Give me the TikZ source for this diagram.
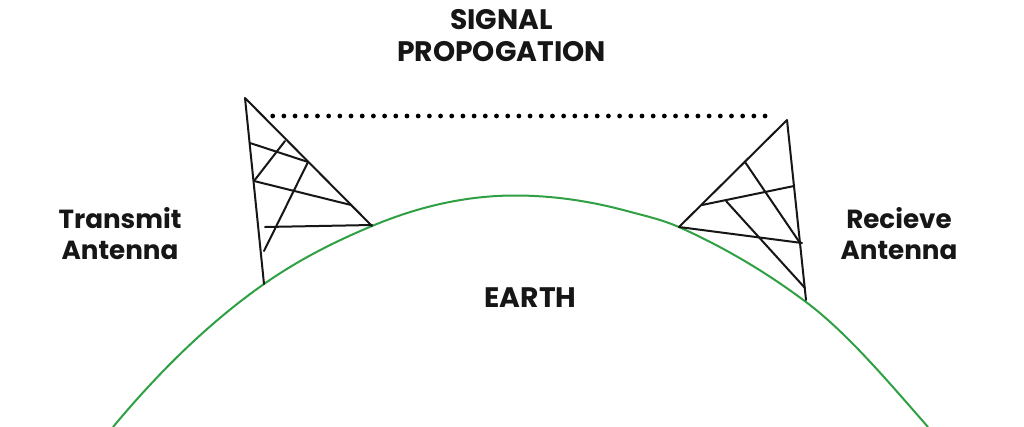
\documentclass[tikz,border=0pt]{standalone}
\usepackage{fontspec}
\setmainfont{Poppins}
\definecolor{earthgreen}{RGB}{48,160,68}
\definecolor{ink}{RGB}{22,22,22}
\tikzset{
  tower/.style={draw=ink,line width=2pt,line cap=round,line join=round},
  ground/.style={draw=earthgreen,line width=2pt},
  dotmark/.style={fill=black,draw=none},
  lab/.style={text=ink,align=center,inner sep=0pt},
  capslab/.style={lab,font=\bfseries\fontsize{28.2}{32}\selectfont},
  mixedlab/.style={lab,font=\bfseries\fontsize{26.2}{31}\selectfont}
}
\begin{document}
\begin{tikzpicture}[x=1pt,y=-1pt]
\useasboundingbox[fill=white] (0,0) rectangle (1024,426);
\draw[ground] (113,427) .. controls (163.3,366.6) and (213.7,319.2) .. (264,284)
  .. controls (300,258.8) and (336,241.1) .. (372,226)
  .. controls (419.7,206) and (467.3,195.5) .. (515,195.5)
  .. controls (552.3,195.5) and (589.7,200.9) .. (627,211)
  .. controls (644.7,215.8) and (662.3,219.6) .. (680,227.5)
  .. controls (722,246.4) and (764,270.5) .. (806,302)
  .. controls (846.7,332.5) and (887.3,380.6) .. (928,427);
% left tower
\draw[tower] (264,284) -- (245,98) -- (372,226);
\draw[tower] (250,143) -- (308,162);
\draw[tower] (285,141) -- (254,181);
\draw[tower] (254,181) -- (351,205);
\draw[tower] (308,162) -- (264,251);
\draw[tower] (265,227) -- (372,225);
% right tower
\draw[tower] (806,300) -- (787,120) -- (679,227);
\draw[tower] (745,162) -- (800,243);
\draw[tower] (702,205) -- (794,186);
\draw[tower] (726,201) -- (805,288);
\draw[tower] (679,227) -- (802,243);
% signal dots
\foreach \i in {0,...,44} \fill[dotmark] ({272.7+\i*11.19},116) circle (2.4);
\node[capslab] (signal) at (501.5,36) {SIGNAL\\PROPOGATION};
\node[mixedlab] (tx) at (120,233.5) {Transmit\\Antenna};
\node[mixedlab] (rx) at (899,233.5) {Recieve\\Antenna};
\node[capslab] (earth) at (530.5,298) {EARTH};
\end{tikzpicture}
\end{document}
